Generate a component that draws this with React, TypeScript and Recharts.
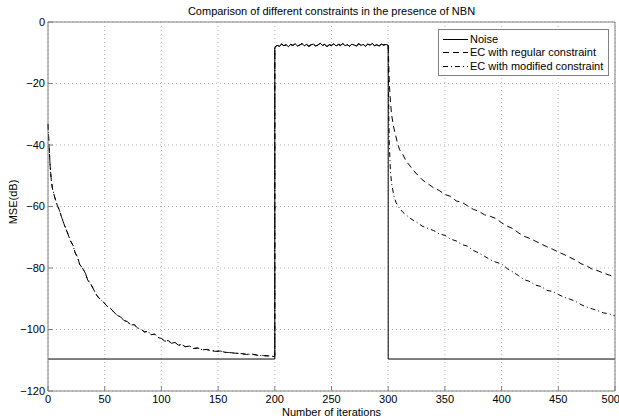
import React from "react";
import { LineChart, Line, XAxis, YAxis, CartesianGrid, Legend } from "recharts";

const xTicks = [0, 50, 100, 150, 200, 250, 300, 350, 400, 450, 500];
const yTicks = [-120, -100, -80, -60, -40, -20, 0];

const seriesNames = ["Noise", "EC with regular constraint", "EC with modified constraint"];

const noiseFloor: [number, number][] = [[0, -109.6], [200, -109.6]];
const noiseTail: [number, number][] = [[300, -109.6], [500, -109.6]];

const ecEarly: [number, number][] = [
  [0, -33.2], [1, -41], [2, -47.5], [3, -51.8], [4, -54.3], [5, -55.6], [6, -57.1], [8, -59.4],
  [10, -61.2], [12, -63.5], [14, -65.6], [17, -68.4], [20, -71.3], [22, -72.6], [24, -75.1],
  [26, -76.4], [28, -78.9], [30, -79.8], [33, -81.7], [35, -83.9], [38, -85.4], [40, -86.8],
  [43, -88.9], [46, -90.2], [49, -91.1], [52, -92.4], [55, -93.1], [58, -94.3], [61, -95.4],
  [64, -95.9], [67, -97.1], [70, -97.4], [73, -98.6], [76, -98.4], [79, -99.5], [82, -99.9],
  [85, -100.8], [88, -100.6], [91, -101.7], [94, -101.5], [97, -102.6], [100, -102.9],
  [103, -103.8], [106, -103.6], [109, -104.5], [112, -104.2], [115, -105.1], [118, -104.9],
  [121, -105.6], [125, -105.4], [128, -106.2], [132, -106.0], [136, -106.6], [140, -106.5],
  [144, -106.9], [148, -107.1], [152, -107.0], [156, -107.4], [160, -107.5], [165, -107.7],
  [170, -107.8], [175, -108.1], [180, -108.0], [185, -108.4], [190, -108.5], [195, -108.6],
  [200, -108.8],
];

const plateau: [number, number][] = [
  [200, -8.3], [202, -7.6], [204, -7.9], [206, -7.2], [208, -7.7], [210, -7.4], [212, -8.0],
  [214, -7.3], [216, -7.6], [218, -7.1], [220, -7.8], [222, -7.5], [224, -7.0], [226, -7.7],
  [228, -7.3], [230, -7.9], [232, -7.4], [234, -7.2], [236, -7.8], [238, -7.5], [240, -6.9],
  [242, -7.6], [244, -7.3], [246, -8.0], [248, -7.4], [250, -7.6], [252, -7.1], [254, -7.8],
  [256, -7.3], [258, -7.6], [260, -7.0], [262, -7.7], [264, -7.4], [266, -7.9], [268, -7.2],
  [270, -7.5], [272, -7.8], [274, -7.1], [276, -7.6], [278, -7.3], [280, -7.9], [282, -7.2],
  [284, -7.5], [286, -7.0], [288, -7.7], [290, -7.4], [292, -7.8], [294, -7.2], [296, -7.5],
  [298, -7.3], [300, -7.6],
];

const regularLate: [number, number][] = [
  [301, -20], [302, -26], [303, -30.2], [305, -34.5], [308, -39.1], [310, -41.5], [313, -43.2],
  [316, -45.3], [320, -47.2], [325, -49.4], [330, -51.3], [335, -52.6], [340, -53.9],
  [345, -54.8], [350, -56.1], [355, -56.7], [360, -58.2], [365, -58.6], [370, -59.8],
  [375, -60.9], [380, -61.6], [385, -62.7], [390, -63.2], [395, -63.9], [400, -65.3],
  [405, -66.4], [410, -67.2], [415, -68.6], [420, -69.7], [425, -70.4], [430, -71.3],
  [435, -72.2], [440, -73.1], [445, -73.9], [450, -74.8], [455, -75.6], [460, -76.5],
  [465, -77.4], [470, -78.6], [475, -79.3], [480, -80.4], [485, -80.9], [490, -81.7],
  [495, -82.3], [500, -82.9],
];

const modifiedLate: [number, number][] = [
  [300.5, -30], [301, -40], [302, -48.5], [303, -52.5], [305, -56.5], [307, -58.8], [310, -60.6],
  [313, -61.9], [316, -62.8], [320, -64.0], [325, -65.1], [330, -66.4], [335, -67.1],
  [340, -67.8], [345, -68.9], [350, -69.4], [355, -70.6], [360, -71.2], [365, -72.4],
  [370, -72.9], [375, -74.3], [380, -75.1], [385, -76.2], [390, -77.3], [395, -78.1],
  [400, -78.7], [405, -80.2], [410, -81.3], [415, -82.5], [420, -83.8], [425, -84.4],
  [430, -85.6], [435, -86.0], [440, -87.3], [445, -87.6], [450, -88.6], [455, -89.5],
  [460, -90.1], [465, -90.8], [470, -91.9], [475, -92.7], [480, -93.3], [485, -93.9],
  [490, -94.6], [495, -94.9], [500, -95.6],
];

const toRows = (pts: [number, number][]) => pts.map(([x, y]) => ({ x, y }));

const noiseData = toRows([...noiseFloor, ...plateau, ...noiseTail]);
const regularData = toRows([...ecEarly, ...plateau, ...regularLate]);
const modifiedData = toRows([...ecEarly, ...plateau, ...modifiedLate]);

const FONT = "'Liberation Sans', Arial, Helvetica, sans-serif";
const AXIS = "#808080";

const fmtY = (v: number) => (v < 0 ? `\u2212${-v}` : `${v}`);

const dashes = ["", "6 4", "5 3 1 3"];

const EmptyTick = () => null;

const LegendBox = () => (
  <div
    style={{
      width: 171,
      height: 47,
      boxSizing: "border-box",
      border: `1px solid ${AXIS}`,
      background: "#fff",
      paddingTop: 2.5,
      paddingLeft: 4,
      fontFamily: FONT,
      fontSize: 11,
      color: "#000",
    }}
  >
    {seriesNames.map((n, i) => (
      <div key={n} style={{ height: 13.5, display: "flex", alignItems: "center", whiteSpace: "nowrap" }}>
        <svg width={25} height={13} style={{ display: "block" }}>
          <line x1={0} y1={6.5} x2={25} y2={6.5} stroke="#000" strokeWidth={1} strokeDasharray={dashes[i] || undefined} />
        </svg>
        <span style={{ marginLeft: 2, lineHeight: "13px" }}>{n}</span>
      </div>
    ))}
  </div>
);

export default function App() {
  return (
    <div style={{ position: "absolute", left: 0, top: 0, width: 619, height: 419, background: "#fff" }}>
      <div
        style={{
          position: "absolute", left: 48, top: 4, width: 567, textAlign: "center",
          fontFamily: FONT, fontSize: 11, lineHeight: "14px", color: "#000",
        }}
      >
        Comparison of different constraints in the presence of NBN
      </div>
      <LineChart width={619} height={419} margin={{ top: 21, right: 3, bottom: 0, left: 0 }} style={{ position: "absolute", left: 0, top: 0 }}>
        <CartesianGrid stroke="#b5b5b5" strokeDasharray="1 3" />
        <XAxis
          dataKey="x" type="number" domain={[0, 500]} ticks={xTicks} height={28}
          stroke={AXIS} tickSize={-5} tickMargin={9}
          tick={{ fill: "#000", fontSize: 11, fontFamily: FONT }} allowDuplicatedCategory={false}
        />
        <XAxis
          xAxisId="top" orientation="top" dataKey="x" type="number" domain={[0, 500]} ticks={xTicks}
          height={1} stroke={AXIS} tickSize={-5} tick={<EmptyTick />}
        />
        <YAxis
          type="number" domain={[-120, 0]} ticks={yTicks} width={48} stroke={AXIS}
          tickSize={-5} tickMargin={8} tickFormatter={fmtY}
          tick={{ fill: "#000", fontSize: 11, fontFamily: FONT }}
        />
        <YAxis
          yAxisId="right" orientation="right" type="number" domain={[-120, 0]} ticks={yTicks}
          width={1} stroke={AXIS} tickSize={-5} tick={<EmptyTick />}
        />
        <Legend
          layout="vertical" align="center" verticalAlign="middle"
          content={() => <LegendBox />}
          wrapperStyle={{ left: 438, top: 29, width: 171, height: 47 }}
        />
        <Line data={noiseData} dataKey="y" name={seriesNames[0]} stroke="#000" strokeWidth={1} dot={false} isAnimationActive={false} type="linear" />
        <Line data={regularData} dataKey="y" name={seriesNames[1]} stroke="#000" strokeWidth={1} strokeDasharray={dashes[1]} dot={false} isAnimationActive={false} type="linear" />
        <Line data={modifiedData} dataKey="y" name={seriesNames[2]} stroke="#000" strokeWidth={1} strokeDasharray={dashes[2]} dot={false} isAnimationActive={false} type="linear" />
      </LineChart>
      <div
        style={{
          position: "absolute", left: 48, top: 405, width: 567, textAlign: "center",
          fontFamily: FONT, fontSize: 11, lineHeight: "14px", color: "#000",
        }}
      >
        Number of iterations
      </div>
      <div
        style={{
          position: "absolute", left: 13, top: 202, transform: "translate(-50%, -50%) rotate(-90deg)",
          fontFamily: FONT, fontSize: 11, lineHeight: "14px", color: "#000", whiteSpace: "nowrap",
        }}
      >
        MSE(dB)
      </div>
    </div>
  );
}
